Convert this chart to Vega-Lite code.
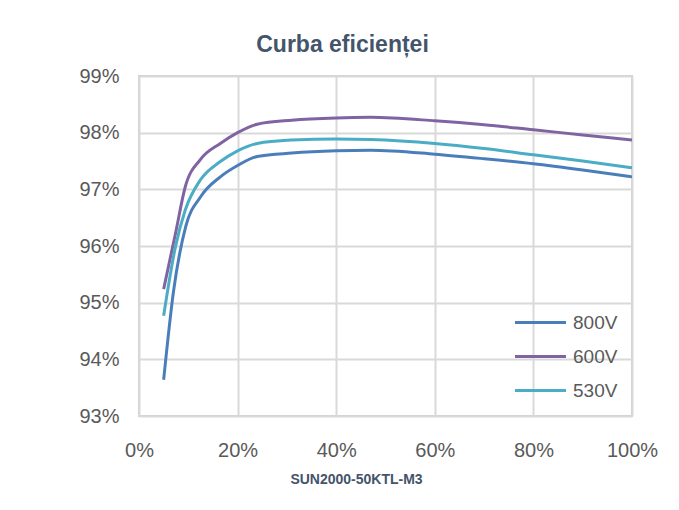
{
  "$schema": "https://vega.github.io/schema/vega-lite/v6.json",
  "autosize": "none",
  "width": 493,
  "height": 340,
  "padding": {"left": 139, "top": 76, "right": 47, "bottom": 94},
  "background": "white",
  "title": {
    "text": "Curba eficienței",
    "font": "Liberation Sans",
    "fontSize": 23,
    "fontWeight": "bold",
    "color": "#44546a",
    "anchor": "middle",
    "dx": -43,
    "offset": 9
  },
  "data": {
    "values": [
      {"load": 0.05, "eff": 0.9364, "v": "800V"},
      {"load": 0.07, "eff": 0.9520, "v": "800V"},
      {"load": 0.095, "eff": 0.9635, "v": "800V"},
      {"load": 0.125, "eff": 0.9687, "v": "800V"},
      {"load": 0.165, "eff": 0.9722, "v": "800V"},
      {"load": 0.20, "eff": 0.9742, "v": "800V"},
      {"load": 0.24, "eff": 0.9758, "v": "800V"},
      {"load": 0.31, "eff": 0.9764, "v": "800V"},
      {"load": 0.40, "eff": 0.9768, "v": "800V"},
      {"load": 0.47, "eff": 0.9769, "v": "800V"},
      {"load": 0.60, "eff": 0.9762, "v": "800V"},
      {"load": 0.70, "eff": 0.9754, "v": "800V"},
      {"load": 0.80, "eff": 0.9745, "v": "800V"},
      {"load": 0.90, "eff": 0.9734, "v": "800V"},
      {"load": 1.00, "eff": 0.9722, "v": "800V"},
      {"load": 0.05, "eff": 0.9524, "v": "600V"},
      {"load": 0.074, "eff": 0.9622, "v": "600V"},
      {"load": 0.094, "eff": 0.9705, "v": "600V"},
      {"load": 0.124, "eff": 0.9752, "v": "600V"},
      {"load": 0.165, "eff": 0.9781, "v": "600V"},
      {"load": 0.20, "eff": 0.9800, "v": "600V"},
      {"load": 0.24, "eff": 0.9815, "v": "600V"},
      {"load": 0.31, "eff": 0.9822, "v": "600V"},
      {"load": 0.40, "eff": 0.9826, "v": "600V"},
      {"load": 0.47, "eff": 0.9827, "v": "600V"},
      {"load": 0.60, "eff": 0.9821, "v": "600V"},
      {"load": 0.70, "eff": 0.9814, "v": "600V"},
      {"load": 0.80, "eff": 0.9805, "v": "600V"},
      {"load": 0.90, "eff": 0.9796, "v": "600V"},
      {"load": 1.00, "eff": 0.9787, "v": "600V"},
      {"load": 0.05, "eff": 0.9477, "v": "530V"},
      {"load": 0.074, "eff": 0.9599, "v": "530V"},
      {"load": 0.094, "eff": 0.9664, "v": "530V"},
      {"load": 0.124, "eff": 0.9716, "v": "530V"},
      {"load": 0.165, "eff": 0.9749, "v": "530V"},
      {"load": 0.20, "eff": 0.9768, "v": "530V"},
      {"load": 0.24, "eff": 0.9781, "v": "530V"},
      {"load": 0.31, "eff": 0.9787, "v": "530V"},
      {"load": 0.40, "eff": 0.9789, "v": "530V"},
      {"load": 0.47, "eff": 0.9788, "v": "530V"},
      {"load": 0.60, "eff": 0.9781, "v": "530V"},
      {"load": 0.70, "eff": 0.9772, "v": "530V"},
      {"load": 0.80, "eff": 0.9761, "v": "530V"},
      {"load": 0.90, "eff": 0.9750, "v": "530V"},
      {"load": 1.00, "eff": 0.9738, "v": "530V"}
    ]
  },
  "mark": {"type": "line", "interpolate": "monotone", "strokeWidth": 3},
  "encoding": {
    "x": {
      "field": "load",
      "type": "quantitative",
      "scale": {"domain": [0, 1], "nice": false, "zero": false},
      "axis": {
        "values": [0, 0.2, 0.4, 0.6, 0.8, 1],
        "format": ".0%",
        "title": "SUN2000-50KTL-M3",
        "titleFont": "Liberation Sans",
        "titleFontSize": 14,
        "titleFontWeight": "bold",
        "titleColor": "#44546a",
        "titleX": 217,
        "titleAlign": "center",
        "titlePadding": 12,
        "labelFont": "Liberation Sans",
        "labelFontSize": 20,
        "labelColor": "#595959",
        "labelPadding": 24,
        "labelFlush": false,
        "labelOverlap": false,
        "ticks": false,
        "domain": false,
        "gridColor": "#d9d9d9",
        "gridWidth": 2
      }
    },
    "y": {
      "field": "eff",
      "type": "quantitative",
      "scale": {"domain": [0.93, 0.99], "nice": false, "zero": false},
      "axis": {
        "values": [0.93, 0.94, 0.95, 0.96, 0.97, 0.98, 0.99],
        "format": ".0%",
        "title": null,
        "labelFont": "Liberation Sans",
        "labelFontSize": 20,
        "labelColor": "#595959",
        "labelPadding": 20,
        "labelFlush": false,
        "ticks": false,
        "domain": false,
        "gridColor": "#d9d9d9",
        "gridWidth": 2
      }
    },
    "color": {
      "field": "v",
      "type": "nominal",
      "scale": {"domain": ["800V", "600V", "530V"], "range": ["#4a7ebb", "#8064a2", "#4bacc6"]},
      "legend": {
        "title": null,
        "orient": "none",
        "legendX": 387,
        "legendY": 232,
        "padding": 0,
        "symbolType": "M-2,0H2",
        "symbolSize": 650,
        "symbolStrokeWidth": 3,
        "labelFont": "Liberation Sans",
        "labelFontSize": 19,
        "labelColor": "#595959",
        "labelOffset": 18,
        "rowPadding": 9
      }
    }
  },
  "config": {
    "view": {"stroke": "#d0d0d0", "strokeWidth": 2}
  }
}
